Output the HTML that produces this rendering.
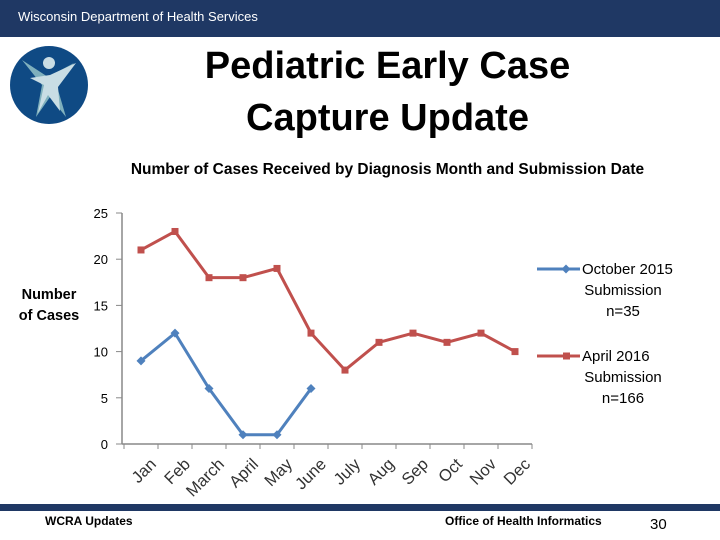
<!DOCTYPE html>
<html><head><meta charset="utf-8"><style>
body{margin:0;width:720px;height:540px;overflow:hidden;background:#fff;font-family:"Liberation Sans",sans-serif;position:relative}
.abs{position:absolute}
</style></head><body>
<div class="abs" style="left:0;top:0;width:720px;height:37px;background:#1f3864"></div>
<div class="abs" style="left:18px;top:9px;color:#fff;font-size:13px">Wisconsin Department of Health Services</div>
<svg class="abs" style="left:10px;top:45px" width="80" height="80" viewBox="0 0 80 80">
<circle cx="39" cy="40" r="39" fill="#0f4a84"/>
<path d="M12 15 L38 32 L64 18 L46 38 L56 72 L40 52 L26 72 L32 40 Z" fill="#7fb0bd"/>
<path d="M20 33 L40 30 L66 18 L48 42 L50 66 L38 50 L28 68 L34 40 Z" fill="#c9dde4"/>
<circle cx="39" cy="18" r="6" fill="#c9dde4"/>
</svg>
<div class="abs" style="left:150px;top:40px;width:475px;text-align:center;font-size:38px;font-weight:bold;line-height:52px;color:#000">Pediatric Early Case<br>Capture Update</div>
<div class="abs" style="left:90px;top:161px;width:595px;text-align:center;font-size:15.5px;font-weight:bold;color:#000">Number of Cases Received by Diagnosis Month and Submission Date</div>
<svg class="abs" id="chart" style="left:0;top:0" width="720" height="540"></svg>
<div class="abs" style="left:0;top:504px;width:720px;height:7px;background:#1f3864"></div>
<div class="abs" style="left:45px;top:514px;font-size:12px;font-weight:bold">WCRA Updates</div>
<div class="abs" style="left:445px;top:514px;font-size:12px;font-weight:bold">Office of Health Informatics</div>
<div class="abs" style="left:650px;top:516px;font-size:15px">30</div>
<script>
const months=["Jan","Feb","March","April","May","June","July","Aug","Sep","Oct","Nov","Dec"];
const oct2015=[9,12,6,1,1,6];
const apr2016=[21,23,18,18,19,12,8,11,12,11,12,10];
const yTicks=[0,5,10,15,20,25];
const NS="http://www.w3.org/2000/svg";
const svg=document.getElementById('chart');
const x0=124,step=34,yBase=444,yPer=9.24;
const X=i=>x0+step*(i+0.5);
const Y=v=>yBase-v*yPer;
function el(t,a){const e=document.createElementNS(NS,t);for(const k in a)e.setAttribute(k,a[k]);svg.appendChild(e);return e;}
const ax=el('line',{x1:x0-2,y1:yBase,x2:x0+step*12,y2:yBase,stroke:'#888','stroke-width':1.5});


yTicks.forEach(v=>{
 const t=el('text',{x:108,y:Y(v)+5,'text-anchor':'end','font-size':13,fill:'#000'});t.textContent=v;
 
 
 const tk=el('line',{x1:116,y1:Y(v),x2:122,y2:Y(v),stroke:'#888'});
 
 
});
const yl=el('line',{x1:122,y1:Y(25),x2:122,y2:yBase,stroke:'#888','stroke-width':1.5});


for(let i=0;i<=12;i++){const tk=el('line',{x1:x0+step*i,y1:yBase,x2:x0+step*i,y2:yBase+5,stroke:'#888'});
 
 }
months.forEach((m,i)=>{
 const cx=X(i)+8,cy=yBase+13;
 const t=el('text',{x:cx,y:cy,'text-anchor':'end','font-size':16.5,fill:'#333',transform:`rotate(-45 ${cx} ${cy})`,dy:'0.7em'});
 t.textContent=m;
 
 
});
function series(vals,color,name,sq){
 const p=el('polyline',{points:vals.map((v,i)=>X(i)+','+Y(v)).join(' '),fill:'none',stroke:color,'stroke-width':3});
 
 
 vals.forEach((v,i)=>{
  const m=sq?el('rect',{x:X(i)-3.5,y:Y(v)-3.5,width:7,height:7,fill:color}):el('path',{d:`M${X(i)} ${Y(v)-4.5}L${X(i)+4.5} ${Y(v)}L${X(i)} ${Y(v)+4.5}L${X(i)-4.5} ${Y(v)}Z`,fill:color});
  
  
 });
}
series(apr2016,'#c0504d','april-2016',true);
series(oct2015,'#4f81bd','october-2015',false);
const yt=el('text',{x:49,y:299,'text-anchor':'middle','font-size':14.5,'font-weight':'bold'});yt.textContent='Number';


const yt2=el('text',{x:49,y:320,'text-anchor':'middle','font-size':14.5,'font-weight':'bold'});yt2.textContent='of Cases';


function legend(y,color,lines,name,sq){
 const l=el('line',{x1:537,y1:y,x2:580,y2:y,stroke:color,'stroke-width':3});
 
 
 const m=sq?el('rect',{x:563,y:y-3.5,width:7,height:7,fill:color}):el('path',{d:`M566 ${y-4.5}L570.5 ${y}L566 ${y+4.5}L561.5 ${y}Z`,fill:color});
 
 
 lines.forEach((s,k)=>{const t=el('text',{x:k==0?582:623,y:y+5+k*21,'text-anchor':k==0?'start':'middle','font-size':15,fill:'#000'});t.textContent=s;
  
  });
}
legend(269,'#4f81bd',['October 2015','Submission','n=35'],'october-2015',false);
legend(356,'#c0504d',['April 2016','Submission','n=166'],'april-2016',true);
</script>
</body></html>
